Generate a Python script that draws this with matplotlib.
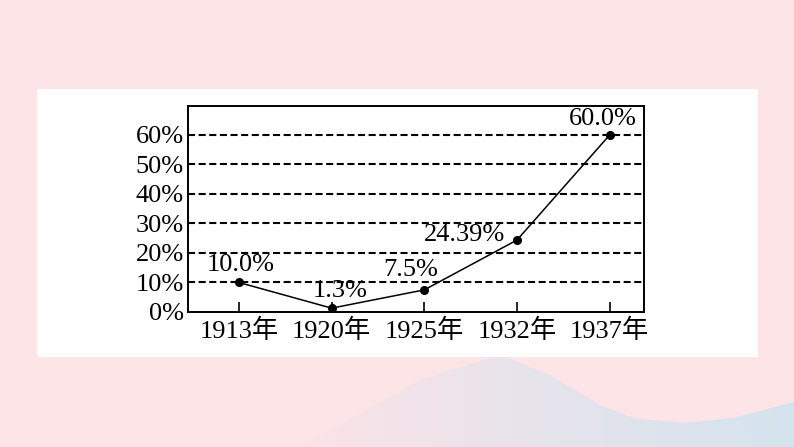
import matplotlib.pyplot as plt
import numpy as np
from matplotlib.patches import Rectangle, Polygon
from matplotlib.colors import LinearSegmentedColormap

years = ['1913年', '1920年', '1925年', '1932年', '1937年']
share = [10.0, 1.3, 7.5, 24.39, 60.0]
value_labels = ['10.0%', '1.3%', '7.5%', '24.39%', '60.0%']
y_ticks = [0, 10, 20, 30, 40, 50, 60]

plt.rcParams['font.family'] = ['Liberation Serif', 'Noto Sans CJK SC']

W, H = 794, 447
fig = plt.figure(figsize=(W / 100, H / 100), dpi=100)
fig.patch.set_facecolor('#fde4e7')

# background layer: blue wave at the lower right, fading to pink on the left
bg = fig.add_axes([0, 0, 1, 1])
bg.set_zorder(-3)
bg.set_xlim(0, W)
bg.set_ylim(H, 0)
bg.axis('off')
wave_px = [(300, 447), (420, 380), (500, 355), (550, 375), (600, 405), (633, 418),
           (683, 423), (733, 418), (794, 402), (794, 447)]
wave = Polygon(wave_px, closed=True, facecolor='none', edgecolor='none')
bg.add_patch(wave)
cmap = LinearSegmentedColormap.from_list('wave', ['#fbe3e7', '#e6e3ec', '#d4e3ee'])
grad = np.tile(np.linspace(0, 1, 200), (10, 1))
im = bg.imshow(grad, cmap=cmap, extent=(300, W, H, 350), aspect='auto')
im.set_clip_path(wave)

bg.add_patch(Rectangle((37, 89), 721, 268, facecolor='white', edgecolor='none'))

ax = fig.add_axes([188 / W, 1 - 312 / H, 456 / W, 206 / H])
ax.set_facecolor('white')
x = np.arange(len(years))

for v in y_ticks[1:]:
    ax.axhline(v, color='black', lw=1.5, ls=(0, (3.4, 1.7)), zorder=1)

ax.plot(x, share, color='black', lw=1.1, marker='o', ms=5.5, zorder=3)

offsets = [(2, 6), (8, 6), (-14, 9), (-53, -6), (-7, 5)]
for i, (lab, off) in enumerate(zip(value_labels, offsets)):
    ax.annotate(lab, (x[i], share[i]), xytext=off, textcoords='offset pixels',
                ha='center', va='bottom', fontsize=19)

ax.set_xlim(-0.55, 4.37)
ax.set_ylim(0, 69.8)
ax.set_xticks(x)
ax.set_xticklabels(years, fontsize=19)
ax.set_yticks(y_ticks)
ax.set_yticklabels([f'{v}%' for v in y_ticks], fontsize=19)
ax.tick_params(axis='x', direction='in', length=7, width=1.2, pad=5)
ax.tick_params(axis='y', length=0, pad=3)
for s in ax.spines.values():
    s.set_linewidth(1.4)

fig.savefig('out.png', dpi=100, facecolor=fig.get_facecolor())
